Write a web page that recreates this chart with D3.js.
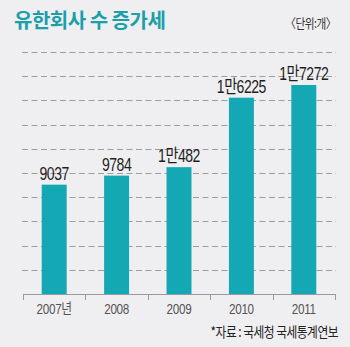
<!DOCTYPE html>
<html>
<head>
<meta charset="utf-8">
<script src="https://cdn.jsdelivr.net/npm/d3@7"></script>
<style>
  html, body { margin: 0; padding: 0; background: #efeff1; }
  svg { display: block; }
</style>
</head>
<body>
<svg id="chart" width="350" height="347"></svg>
<script>
// 유한회사 수 (단위: 개)
const years = ["2007년", "2008", "2009", "2010", "2011"];
const counts = [9037, 9784, 10482, 16225, 17272];
const valueLabels = ["9037", "9784", "1만482", "1만6225", "1만7272"];
const gridValues = d3.range(2000, 20001, 2000);

(function () {
  const W = 350, H = 347;
  const plotLeft = 23, plotRight = 335, plotTop = 52, plotBottom = 294;
  const narrowFont = "'Liberation Sans', Arial, 'Noto Sans CJK KR', sans-serif";

  const svg = d3.select("#chart");
  svg.append("rect").attr("width", W).attr("height", H).attr("fill", "#efeff1");

  const x = d3.scaleBand().domain(years).range([plotLeft, plotRight]).paddingInner(0.6).paddingOuter(0.3);
  const y = d3.scaleLinear().domain([0, 20000]).range([plotBottom, plotTop]);

  // horizontally condensed text, anchored at (cx, cy)
  const squeeze = (cx, cy, k) => `translate(${cx},${cy}) scale(${k},1)`;

  // dashed gridlines
  svg.append("g").selectAll("line").data(gridValues).join("line")
    .attr("x1", plotLeft - 1).attr("x2", plotRight + 1)
    .attr("y1", d => Math.round(y(d)) + 0.5).attr("y2", d => Math.round(y(d)) + 0.5)
    .attr("stroke", "#9c9ca1").attr("stroke-width", 1)
    .attr("stroke-dasharray", "6,3.5");

  // bars
  svg.append("g").selectAll("rect").data(counts).join("rect")
    .attr("x", (d, i) => x(years[i]))
    .attr("width", x.bandwidth())
    .attr("y", d => y(d))
    .attr("height", d => y(0) - y(d))
    .attr("fill", "#13a8b3");

  // value labels
  svg.append("g").selectAll("text").data(counts).join("text")
    .attr("transform", (d, i) => squeeze(x(years[i]) + x.bandwidth() / 2, y(d) - 5, 0.78))
    .attr("text-anchor", "middle")
    .attr("font-family", narrowFont)
    .attr("font-size", 18)
    .attr("letter-spacing", -0.6)
    .attr("fill", "#1e1e1e")
    .text((d, i) => valueLabels[i]);

  // x axis with ticks at band boundaries
  const axisG = svg.append("g");
  axisG.append("line")
    .attr("x1", plotLeft).attr("x2", plotRight)
    .attr("y1", plotBottom + 0.5).attr("y2", plotBottom + 0.5)
    .attr("stroke", "#9a9a9e");
  const edges = d3.range(years.length + 1).map(i => plotLeft + i * x.step());
  axisG.selectAll("line.tick").data(edges).join("line")
    .attr("class", "tick")
    .attr("x1", d => Math.round(d) + 0.5).attr("x2", d => Math.round(d) + 0.5)
    .attr("y1", plotBottom).attr("y2", plotBottom + 6)
    .attr("stroke", "#9a9a9e");
  axisG.selectAll("text").data(years).join("text")
    .attr("transform", d => squeeze(x(d) + x.bandwidth() / 2, plotBottom + 20, 0.78))
    .attr("text-anchor", "middle")
    .attr("font-family", narrowFont)
    .attr("font-size", 15)
    .attr("letter-spacing", -0.4)
    .attr("fill", "#555")
    .text(d => d);

  // title
  svg.append("text")
    .attr("x", 14).attr("y", 28)
    .attr("font-family", "'Noto Sans CJK KR', sans-serif")
    .attr("font-weight", "bold")
    .attr("font-size", 20)
    .attr("letter-spacing", -0.5)
    .attr("fill", "#1b9fa8")
    .text("유한회사 수 증가세");

  // unit
  svg.append("text")
    .attr("transform", squeeze(336, 28, 0.82))
    .attr("text-anchor", "end")
    .attr("font-family", "'Noto Sans CJK KR', sans-serif")
    .attr("font-size", 13)
    .attr("letter-spacing", -0.6)
    .attr("fill", "#333")
    .text("〈단위:개〉");

  // source
  svg.append("text")
    .attr("transform", squeeze(338, 337, 0.84))
    .attr("text-anchor", "end")
    .attr("font-family", "'Noto Sans CJK KR', sans-serif")
    .attr("font-size", 14)
    .attr("letter-spacing", -0.6)
    .attr("fill", "#222")
    .text("*자료 : 국세청 국세통계연보");
})();
</script>
</body>
</html>
